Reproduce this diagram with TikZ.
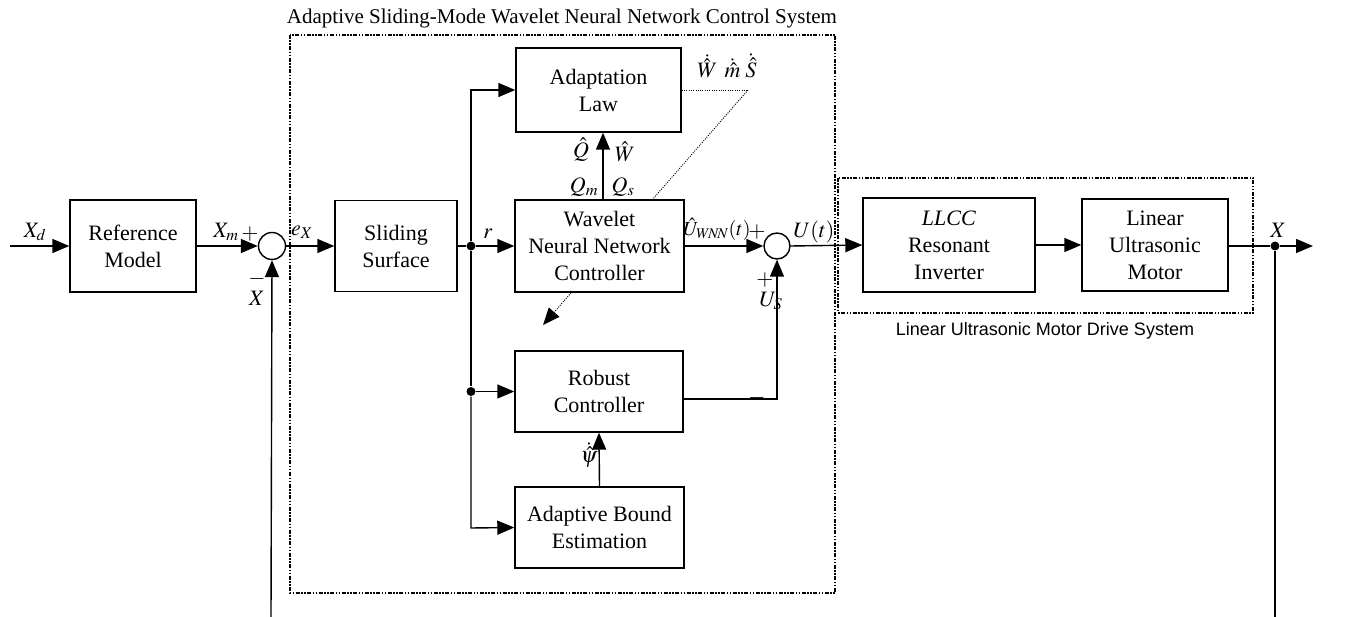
\documentclass[tikz,border=0pt]{standalone}
\usepackage{mathptmx}
\usepackage{fontspec}
\setmainfont{Liberation Serif}
\newfontfamily\arialf{Liberation Sans}
\usetikzlibrary{arrows.meta,backgrounds,calc}
\begin{document}
\begin{tikzpicture}[x=1pt,y=-1pt,
  line width=1.4pt,
  blk/.style={draw,fill=white,rectangle,align=center,inner sep=0pt,font=\fontsize{22}{27}\selectfont},
  sumc/.style={draw,circle,minimum size=27pt,inner sep=0pt,fill=white},
  arr/.style={-{Triangle[length=17pt,width=14pt]}},
  lbl/.style={font=\fontsize{22}{27}\selectfont,inner sep=0pt},
  jdot/.style={circle,fill,inner sep=0pt,minimum size=9pt},
  frame/.style={line width=1.7pt,dash pattern=on 4pt off 1.5pt on 1.5pt off 1.5pt on 1.5pt off 1.5pt},
  dotl/.style={line width=0.9pt,dash pattern=on 1pt off 1.3pt}
]
\useasboundingbox (0,0) rectangle (1345,617);

% frames
\draw[frame] (290,35) rectangle (835,593);
\draw[frame] (838,178) rectangle (1253,313);
\node[inner sep=0pt,font=\fontsize{21}{26}\selectfont] (title) at (562,18) {Adaptive Sliding-Mode Wavelet Neural Network Control System};
\node[inner sep=0pt,font=\arialf\fontsize{18}{22}\selectfont] (drvlbl) at (1045,331) {Linear Ultrasonic Motor Drive System};

% blocks
\node[blk,minimum width=126pt,minimum height=92pt] (ref) at (133,246) {Reference\\Model};
\node[sumc] (s1) at (272,246) {};
\node[blk,minimum width=122pt,minimum height=91pt] (slide) at (396,246) {Sliding\\Surface};
\node[blk,minimum width=165pt,minimum height=84pt] (adapt) at (598.5,90) {Adaptation\\Law};
\node[blk,minimum width=169pt,minimum height=92pt] (wnn) at (599.5,246) {Wavelet\\Neural Network\\Controller};
\node[sumc,minimum size=26pt] (s2) at (777,246) {};
\node[blk,minimum width=168pt,minimum height=81pt] (rob) at (599,391.5) {Robust\\Controller};
\node[blk,minimum width=169pt,minimum height=81pt] (abe) at (599.5,527.5) {Adaptive Bound\\Estimation};
\node[blk,minimum width=172pt,minimum height=94pt] (llcc) at (949,245) {\textit{LLCC}\\Resonant\\Inverter};
\node[blk,minimum width=146pt,minimum height=92pt] (mot) at (1155,245) {Linear\\Ultrasonic\\Motor};

% coordinates
\coordinate (xin) at (10,246);
\node[jdot] (j1) at (471,246) {};
\node[jdot] (j2) at (471,391.5) {};
\coordinate (jt) at (471,90);
\coordinate (jb) at (471,528);
\node[jdot] (jo) at (1275,246) {};
\coordinate (xout) at (1313,246);
\coordinate (fbR) at (1275,617);
\coordinate (fbL) at (271,617);
\coordinate (dk) at (748,90);
\coordinate (dend) at (543,325);
\coordinate (wtop) at (603,200);

% dotted adaptation link behind blocks
\begin{scope}[on background layer]
\draw[dotl] (adapt.east) -- (dk);
\draw[dotl,-{Triangle[length=17pt,width=14pt]}] (dk) -- (dend);
\end{scope}

% connectors
\draw[arr] (xin) -- (ref.west);
\draw[arr] (ref.east) -- (s1.west);
\draw[arr] (fbL) -- (s1.south);
\draw[arr] (s1.east) -- (slide.west);
\draw (slide.east) -- (j1);
\draw[arr] (j1) -- (wnn.west);
\draw[arr] (j1) -- (jt) -- (adapt.west);
\draw (j1) -- (j2);
\draw[arr] (j2) -- (rob.west);
\draw[arr] (j2) -- (jb) -- (abe.west);
\draw[arr] (wtop) -- (wtop |- adapt.south);
\draw[arr] (wnn.east) -- (s2.west);
\draw[arr] (rob.east |- 0,399) -| (s2.south);
\draw[arr] (abe.north) -- (rob.south);
\draw[arr] (s2.east) -- (llcc.west);
\draw[arr] (llcc.east) -- (mot.west);
\draw (mot.east |- jo) -- (jo);
\draw[arr] (jo) -- (xout);
\draw (jo) -- (fbR);

% labels
\node[lbl] at (35,232) {$X_d$};
\node[lbl] at (226,232) {$X_m$};
\node[lbl] at (250,234) {$+$};
\node[lbl] at (257,279) {$-$};
\node[lbl] at (257,298) {$X$};
\node[lbl] at (302,232) {$e_X$};
\node[lbl] at (488,234) {$r$};
\node[lbl] at (581,150) {$\hat{Q}$};
\node[lbl] at (625,152) {$\hat{W}$};
\node[lbl] at (584,187) {$Q_m$};
\node[lbl] at (623,187) {$Q_s$};
\node[lbl] at (727,66) {$\dot{\hat{W}}\;\,\dot{\hat{m}}\;\dot{\hat{S}}$};
\node[lbl,font=\fontsize{20}{24}\selectfont] at (717,229) {$\hat{U}_{W\!N\!N}(t)$};
\node[lbl] at (757,232) {$+$};
\node[lbl] at (814,232) {$U(t)$};
\node[lbl] at (765,280) {$+$};
\node[lbl] at (771,301) {$U_S$};
\node[lbl] at (757,398) {$-$};
\node[lbl] at (589,455) {$\dot{\hat{\psi}}$};
\node[lbl] at (1278,230) {$X$};
\end{tikzpicture}
\end{document}
